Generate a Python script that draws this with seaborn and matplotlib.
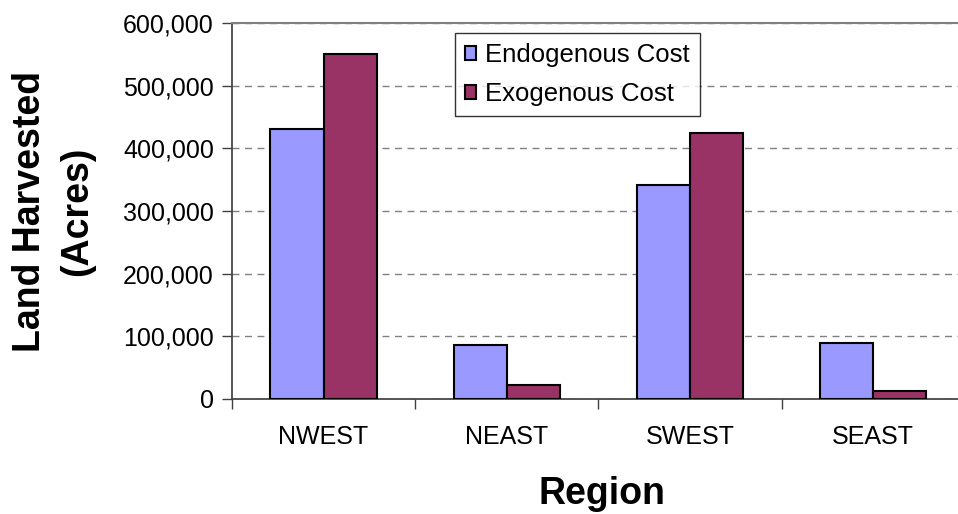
import pandas as pd
import matplotlib.pyplot as plt
import matplotlib.ticker as mticker
import seaborn as sns

# values (acres)
regions = ["NWEST", "NEAST", "SWEST", "SEAST"]
endogenous = [431000, 86000, 341000, 90000]
exogenous = [550000, 22000, 424000, 13000]
series_names = ["Endogenous Cost", "Exogenous Cost"]
colors = ["#9999FF", "#993366"]

df = pd.DataFrame({
    "Region": regions * 2,
    "Acres": endogenous + exogenous,
    "Series": [series_names[0]] * 4 + [series_names[1]] * 4,
})

sns.set_theme(style="white")
plt.rcParams["font.family"] = ["Liberation Sans", "DejaVu Sans"]
plt.rcParams["text.color"] = "black"
plt.rcParams["axes.labelcolor"] = "black"
plt.rcParams["xtick.color"] = "black"
plt.rcParams["ytick.color"] = "black"

fig = plt.figure(figsize=(9.58, 5.14), dpi=100)
ax = fig.add_axes([232 / 958, 115 / 514, 740 / 958, 376 / 514])

sns.barplot(data=df, x="Region", y="Acres", hue="Series", palette=colors,
            width=0.58, edgecolor="black", linewidth=1.5, saturation=1,
            ax=ax, zorder=3)

ax.set_ylim(0, 600000)
ax.set_xlim(-0.5, 3.54)
ax.yaxis.set_major_locator(mticker.MultipleLocator(100000))
ax.yaxis.set_major_formatter(mticker.FuncFormatter(lambda v, p: f"{int(v):,}"))
ax.grid(axis="y", color="#808080", linestyle=(0, (5, 4)), linewidth=1, zorder=0)

ax.spines["top"].set_color("#808080")
ax.spines["top"].set_linewidth(1.5)
ax.spines["right"].set_visible(False)
ax.spines["left"].set_color("#404040")
ax.spines["bottom"].set_color("#404040")

ax.tick_params(axis="y", which="major", left=True, length=7, width=1, color="#404040",
               labelsize=18, pad=6, labelcolor="black")
ax.tick_params(axis="x", which="major", bottom=False, length=0, labelsize=18, pad=19,
               labelcolor="black")
ax.set_xticks([-0.5, 0.5, 1.5, 2.5], minor=True)
ax.tick_params(axis="x", which="minor", bottom=True, length=7, width=1, color="#404040")

ax.set_xlabel("Region", fontsize=27, fontweight="bold", labelpad=19)
ax.set_ylabel("Land Harvested\n(Acres)", fontsize=27, fontweight="bold",
              labelpad=20, linespacing=1.4)

leg = ax.legend(loc="upper left", bbox_to_anchor=((455 - 232) / 740, (399 - 33) / 376),
                fontsize=18.5, frameon=True, fancybox=False, edgecolor="black",
                handlelength=0.42, handleheight=0.42, handletextpad=0.35,
                borderpad=0.4, labelspacing=0.58, borderaxespad=0)
leg.get_frame().set_linewidth(1)
for h in leg.legend_handles:
    h.set_edgecolor("black")
    h.set_linewidth(1.5)

plt.savefig("out.png", dpi=100)
